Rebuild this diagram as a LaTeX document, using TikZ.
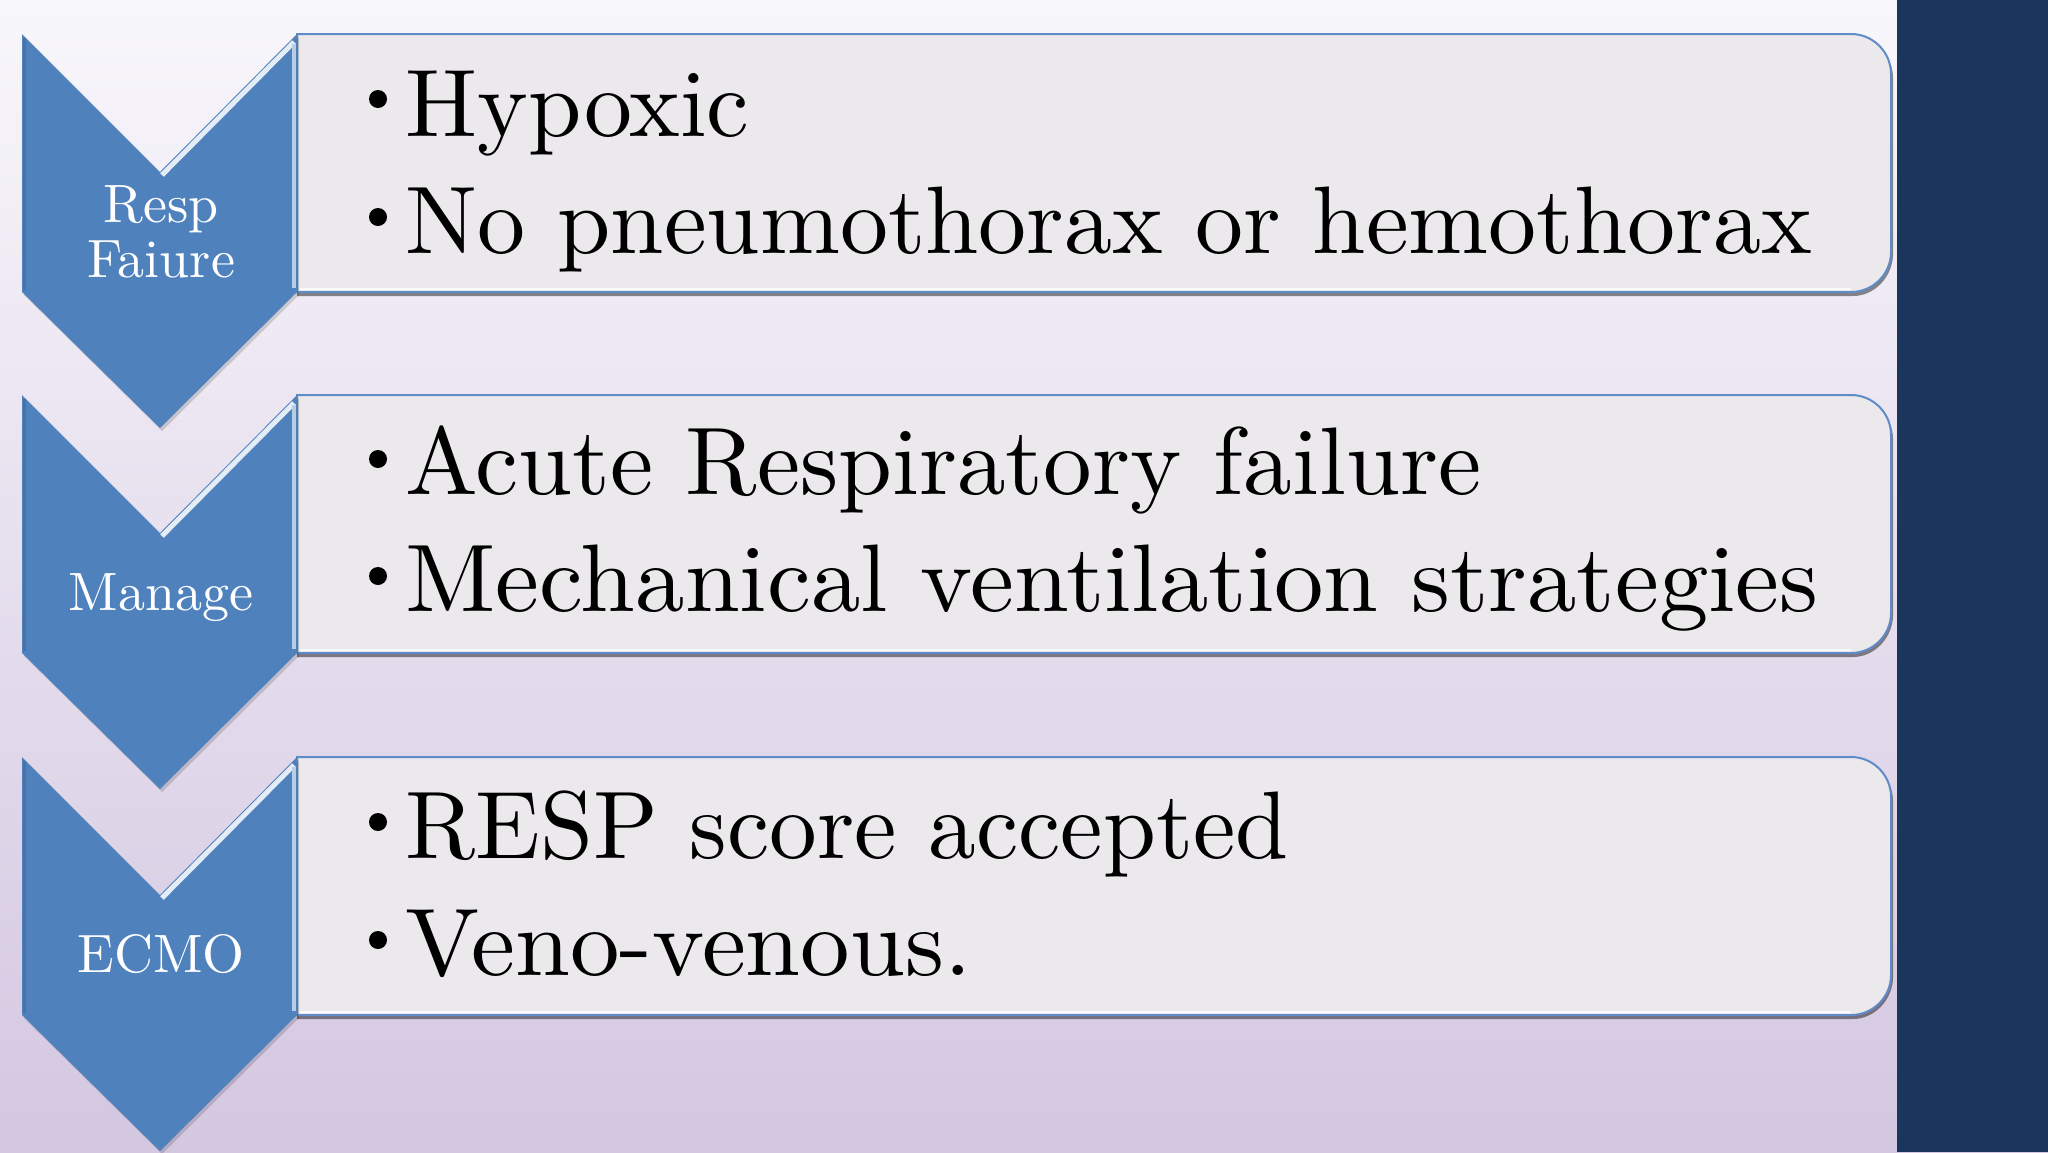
\documentclass[tikz,border=0pt]{standalone}
\usepackage{fontspec}
\setmainfont{lmroman10-regular}[Extension=.otf]
\definecolor{bgtop}{RGB}{248,247,251}
\definecolor{bgmid}{RGB}{228,220,235}
\definecolor{bgbot}{RGB}{212,199,225}
\definecolor{navy}{RGB}{27,54,93}
\definecolor{chev}{RGB}{79,129,189}
\definecolor{boxfill}{RGB}{235,233,236}
\definecolor{boxline}{RGB}{95,140,200}
\tikzset{
  chevfill/.style={fill=chev},
  chevtext/.style={text=white, inner sep=0pt, anchor=base, font=\fontsize{27}{28}\selectfont},
  boxtext/.style={text=black, inner sep=0pt, anchor=base west, font=\fontsize{48}{57.5}\selectfont},
  bulletdot/.style={circle, fill=black, inner sep=0pt, minimum size=9pt},
  boxstyle/.style={fill=boxfill, draw=boxline, line width=1pt},
}
\begin{document}
\begin{tikzpicture}[x=0.5pt,y=-0.5pt]
\useasboundingbox (0,0) rectangle (2048,1152);
% background
\shade[top color=bgtop, middle color=bgmid, bottom color=bgbot] (0,0) rectangle (2048,1152);
\fill[navy] (1897,0) rectangle (2048,1152);
% chevrons and boxes
\foreach \T/\n in {34/1,395/2,757/3}{
  % box shadow
  \fill[black, opacity=.45] (297,\T+4) -- (1853,\T+4) .. controls (1875,\T+4) and (1893,\T+22) .. (1893,\T+44) -- (1893,\T+220) .. controls (1893,\T+242) and (1875,\T+262) .. (1853,\T+262) -- (297,\T+262) -- cycle;
  % box
  \path[boxstyle] (297,\T) -- (1851,\T) .. controls (1873,\T) and (1891,\T+18) .. (1891,\T+40) -- (1891,\T+218) .. controls (1891,\T+240) and (1873,\T+258) .. (1851,\T+258) -- (297,\T+258) -- cycle;
  \draw[white, line width=1pt, opacity=.8] (300,\T+255) -- (1851,\T+255);
  % chevron shadow
  \fill[black, opacity=.15] (24,\T+3) -- (162,\T+141) -- (299,\T+3) -- (299,\T+261) -- (162,\T+397) -- (24,\T+261) -- cycle;
  % chevron
  \fill[chevfill] (22,\T) -- (160,\T+138) -- (297,\T) -- (297,\T+258) -- (160,\T+394) -- (22,\T+258) -- cycle;
  % bevel highlights
  \draw[white, line width=2.5pt, opacity=.85, line cap=butt] (162,\T+141) -- (294,\T+8);
  \draw[chev!40!white, line width=2pt, line cap=butt] (294,\T+10) -- (294,\T+254);
  \draw[chev!80!black, line width=1.5pt, opacity=.5, line cap=butt] (24,\T+4) -- (24,\T+256);
}
% chevron labels
\node[chevtext] (c1a) at (161,222) {Resp};
\node[chevtext] (c1b) at (161,277) {Faiure};
\node[chevtext] (c2) at (161,610) {Manage};
\node[chevtext] (c3) at (161,972) {ECMO};
% box texts
\node[bulletdot] (d1a) at (378,99) {};
\node[boxtext] (t1a) at (405,136) {Hypoxic};
\node[bulletdot] (d1b) at (378,217) {};
\node[boxtext] (t1b) at (405,253) {No pneumothorax or hemothorax};
\node[bulletdot] (d2a) at (378,459) {};
\node[boxtext] (t2a) at (405,494) {\scalebox{1.011}[1]{Acute Respiratory failure}};
\node[bulletdot] (d2b) at (378,576) {};
\node[boxtext] (t2b) at (405,611) {\scalebox{1.028}[1]{Mechanical ventilation strategies}};
\node[bulletdot] (d3a) at (378,822) {};
\node[boxtext] (t3a) at (405,858) {\scalebox{0.992}[1]{RESP score accepted}};
\node[bulletdot] (d3b) at (378,940) {};
\node[boxtext] (t3b) at (405,975) {\scalebox{1.03}[1]{Veno-venous.}};
\end{tikzpicture}
\end{document}
